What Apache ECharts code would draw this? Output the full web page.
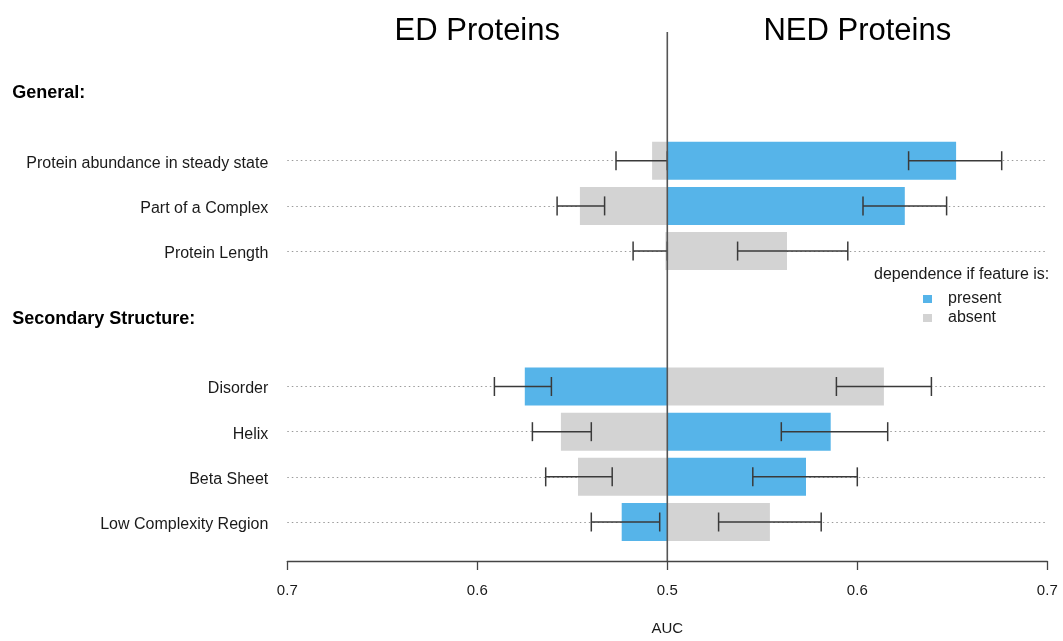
<!DOCTYPE html>
<html>
<head>
<meta charset="utf-8">
<script src="https://cdn.jsdelivr.net/npm/echarts@6/dist/echarts.min.js"></script>
<style>
  html, body { margin: 0; padding: 0; background: #ffffff; }
  #chart { width: 1063px; height: 641px; }
</style>
</head>
<body>
<div id="chart"></div>
<script>
// Feature groups, drawn top to bottom
const sectionTitles = ['General:', 'Secondary Structure:'];
const generalFeatures = ['Protein abundance in steady state', 'Part of a Complex', 'Protein Length'];
const structureFeatures = ['Disorder', 'Helix', 'Beta Sheet', 'Low Complexity Region'];

// AUC per feature (general features first, then secondary structure)
const edAuc   = [0.508, 0.546, 0.501, 0.575, 0.556, 0.547, 0.524];
const edLow   = [0.500, 0.533, 0.500, 0.561, 0.540, 0.529, 0.504];
const edHigh  = [0.527, 0.558, 0.518, 0.591, 0.571, 0.564, 0.540];
const edState = ['absent', 'absent', 'absent', 'present', 'absent', 'absent', 'present'];

const nedAuc   = [0.652, 0.625, 0.563, 0.614, 0.586, 0.573, 0.554];
const nedLow   = [0.627, 0.603, 0.537, 0.589, 0.560, 0.545, 0.527];
const nedHigh  = [0.676, 0.647, 0.595, 0.639, 0.616, 0.600, 0.581];
const nedState = ['present', 'present', 'absent', 'absent', 'present', 'present', 'absent'];

const tickLabels = ['0.7', '0.6', '0.5', '0.6', '0.7'];
const sideTitles = ['ED Proteins', 'NED Proteins'];
const legendNames = ['present', 'absent'];

const BASE = 0.5;            // AUC of a random predictor, the shared origin
const COLORS = { present: '#56b4e9', absent: '#d3d3d3' };
const FONT = '"Liberation Sans", Arial, Helvetica, sans-serif';

// ED bars grow to the left, NED bars to the right of the origin
const toLeft = v => -(v - BASE);
const toRight = v => v - BASE;

// Row slots on a half-step grid: section header, gaps, feature rows
const slots = [];
let featureIndex = 0;
[generalFeatures, structureFeatures].forEach((feats, g) => {
  if (g > 0) slots.push({ kind: 'gap' }, { kind: 'gap' });
  slots.push({ kind: 'header', label: sectionTitles[g] });
  slots.push({ kind: 'gap' }, { kind: 'gap' });
  feats.forEach((f, j) => {
    if (j > 0) slots.push({ kind: 'gap' });
    slots.push({ kind: 'row', label: f, idx: featureIndex++ });
  });
});

function barData(states, auc, state, mapFn) {
  return slots.map(s => (s.kind === 'row' && states[s.idx] === state) ? mapFn(auc[s.idx]) : '-');
}

const errorData = [];
slots.forEach((s, i) => {
  if (s.kind !== 'row') return;
  errorData.push([toLeft(edHigh[s.idx]), toLeft(edLow[s.idx]), i]);
  errorData.push([toRight(nedLow[s.idx]), toRight(nedHigh[s.idx]), i]);
});

function barSeries(name, data) {
  return {
    name: name,
    type: 'bar',
    data: data,
    barWidth: 38,
    barGap: '-100%',
    itemStyle: { color: COLORS[name] },
    emphasis: { disabled: true },
    silent: true,
    z: 2
  };
}

const chart = echarts.init(document.getElementById('chart'), null, { renderer: 'canvas' });

chart.setOption({
  animation: false,
  backgroundColor: '#ffffff',
  textStyle: { fontFamily: FONT },
  grid: { left: 287.3, right: 15.7, top: 93, bottom: 117, containLabel: false },
  title: {
    text: 'dependence if feature is:',
    left: 869,
    top: 262,
    textStyle: { fontFamily: FONT, fontSize: 16, fontWeight: 'normal', color: '#1a1a1a' }
  },
  legend: {
    data: legendNames,
    orient: 'vertical',
    left: 918,
    top: 286,
    icon: 'rect',
    itemWidth: 9,
    itemHeight: 8,
    itemGap: 3,
    selectedMode: false,
    textStyle: { fontFamily: FONT, fontSize: 16, color: '#1a1a1a', padding: [0, 0, 0, 11] }
  },
  xAxis: {
    type: 'value',
    min: -0.2,
    max: 0.2,
    interval: 0.1,
    position: 'bottom',
    offset: 39,
    name: 'AUC',
    nameLocation: 'middle',
    nameGap: 60,
    nameTextStyle: { fontFamily: FONT, fontSize: 15, color: '#1a1a1a' },
    axisLine: { show: true, onZero: false, lineStyle: { color: '#444', width: 1.3 } },
    axisTick: { show: true, inside: false, length: 9, lineStyle: { color: '#444', width: 1.3 } },
    splitLine: { show: false },
    axisLabel: {
      margin: 22,
      fontFamily: FONT,
      fontSize: 15,
      color: '#1a1a1a',
      formatter: v => tickLabels[Math.round((v + 0.2) / 0.1)]
    }
  },
  yAxis: {
    type: 'category',
    inverse: true,
    boundaryGap: false,
    data: slots.map((s, i) => 'slot' + i),
    axisLine: { show: false },
    axisTick: { show: false },
    splitLine: {
      show: true,
      interval: (index) => slots[index] && slots[index].kind === 'row',
      lineStyle: { type: [1.5, 3], color: '#9a9a9a', width: 1 }
    },
    axisLabel: {
      interval: 0,
      margin: 19,
      fontFamily: FONT,
      fontSize: 16,
      color: '#1a1a1a',
      formatter: (value, index) => {
        const s = slots[index];
        if (!s) return '';
        if (s.kind === 'header') return '{h|' + s.label + '}';
        if (s.kind === 'row') return '{r|' + s.label + '}';
        return '';
      },
      rich: {
        h: { fontFamily: FONT, fontSize: 18, fontWeight: 'bold', color: '#000', width: 256, align: 'left', padding: [0, 0, 0, 0] },
        r: { fontFamily: FONT, fontSize: 16, color: '#1a1a1a', padding: [5, 0, 0, 0] }
      }
    }
  },
  series: [
    barSeries('present', barData(edState, edAuc, 'present', toLeft)),
    barSeries('absent', barData(edState, edAuc, 'absent', toLeft)),
    barSeries('present', barData(nedState, nedAuc, 'present', toRight)),
    barSeries('absent', barData(nedState, nedAuc, 'absent', toRight)),
    {
      name: 'error',
      type: 'custom',
      data: errorData,
      encode: { x: [0, 1], y: 2 },
      silent: true,
      z: 5,
      renderItem: (params, api) => {
        const row = api.value(2);
        const a = api.coord([api.value(0), row]);
        const b = api.coord([api.value(1), row]);
        const h = 9.5;
        const st = { stroke: '#3a3a3a', lineWidth: 1.5 };
        return {
          type: 'group',
          children: [
            { type: 'line', shape: { x1: a[0], y1: a[1], x2: b[0], y2: b[1] }, style: st },
            { type: 'line', shape: { x1: a[0], y1: a[1] - h, x2: a[0], y2: a[1] + h }, style: st },
            { type: 'line', shape: { x1: b[0], y1: b[1] - h, x2: b[0], y2: b[1] + h }, style: st }
          ]
        };
      }
    }
  ]
});

// Origin line and side titles, placed with the x scale
const x0 = chart.convertToPixel({ xAxisIndex: 0 }, 0);
const xLeftTitle = chart.convertToPixel({ xAxisIndex: 0 }, -0.1);
const xRightTitle = chart.convertToPixel({ xAxisIndex: 0 }, 0.1);
const axisY = chart.convertToPixel({ yAxisIndex: 0 }, slots.length - 1) + 39;

chart.setOption({
  graphic: [
    {
      type: 'line',
      z: 10,
      silent: true,
      shape: { x1: x0, y1: 32, x2: x0, y2: axisY },
      style: { stroke: '#555555', lineWidth: 1.6 }
    },
    {
      type: 'text',
      silent: true,
      x: xLeftTitle,
      y: 31,
      style: { text: sideTitles[0], fontFamily: FONT, fontSize: 31, fill: '#000', align: 'center', verticalAlign: 'middle' }
    },
    {
      type: 'text',
      silent: true,
      x: xRightTitle,
      y: 31,
      style: { text: sideTitles[1], fontFamily: FONT, fontSize: 31, fill: '#000', align: 'center', verticalAlign: 'middle' }
    }
  ]
});
</script>
</body>
</html>
